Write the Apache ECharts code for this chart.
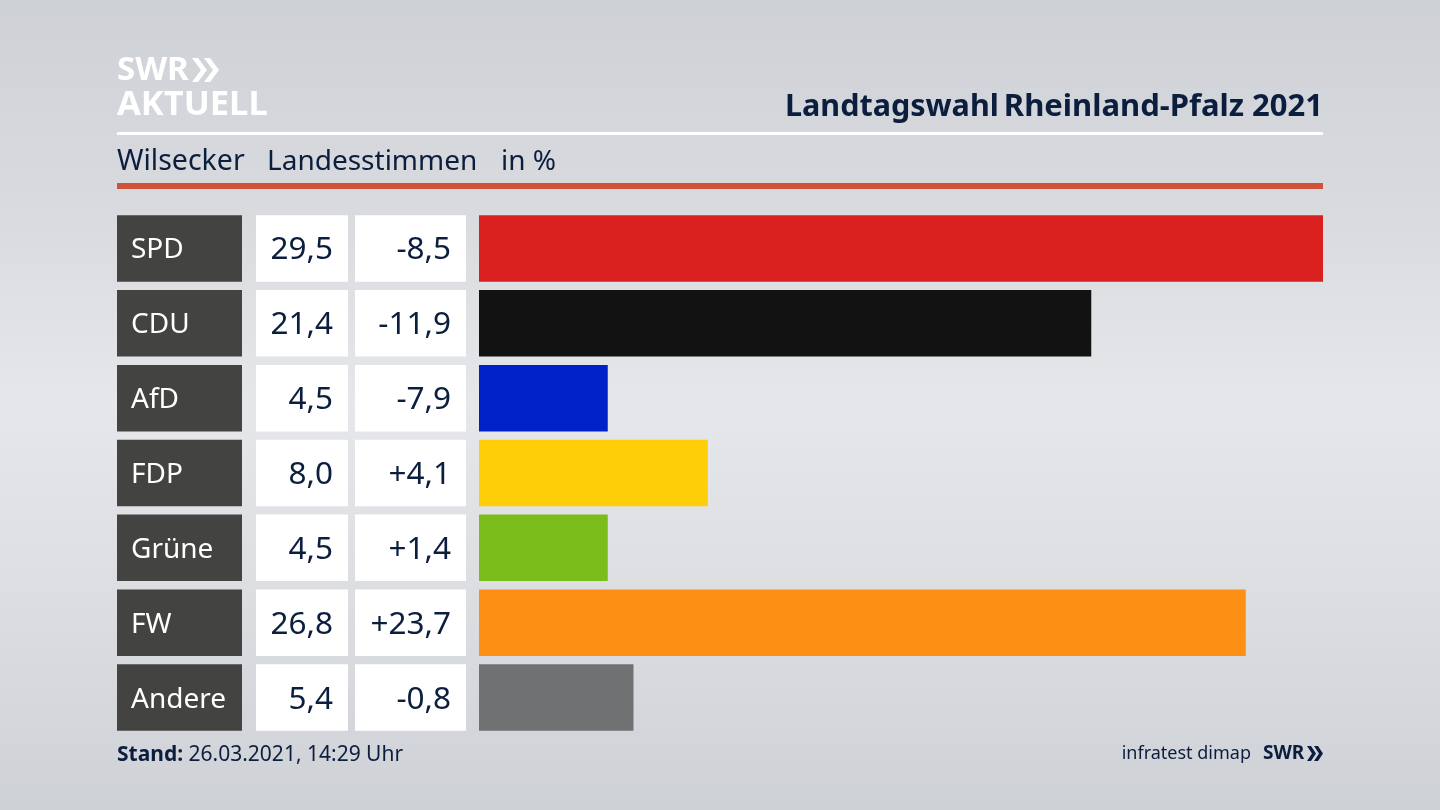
<!DOCTYPE html>
<html><head><meta charset="utf-8">
<style>html,body{margin:0;padding:0;background:#d8dbe0}#c{width:1440px;height:810px}</style>
<script src="https://cdn.jsdelivr.net/npm/echarts@6/dist/echarts.min.js"></script>
</head><body><div id="c"></div>
<script>
const parties = ['SPD','CDU','AfD','FDP','Grüne','FW','Andere'];
const shares = [29.5,21.4,4.5,8.0,4.5,26.8,5.4];
const changes = ['-8,5','-11,9','-7,9','+4,1','+1,4','+23,7','-0,8'];
const colors = ['#d9201f','#121212','#0020c8','#fece08','#7abc1a','#fe8f15','#707172'];
const FONT = '"Noto Sans"', INK = '#0c1e3e';
const fmt = v => v.toFixed(1).replace('.', ',');
const gridTop = 211, gridH = 524, barW = 66.5;
const cols = [
  {left:117,width:125},
  {left:256,width:92},
  {left:355,width:111},
  {left:479,width:844}
];
const one = parties.map(() => 1);
const cell = (i, color, labelOpt) => ({
  type:'bar', xAxisIndex:i, yAxisIndex:i, data:one, barWidth:barW, silent:true,
  itemStyle:{color}, label:Object.assign({show:true,fontFamily:FONT,verticalAlign:'middle',offset:[0,2]},labelOpt)
});
const chev = (x,y,h,w,t,fill) => ({type:'polygon',silent:true,shape:{points:[[x,y],[x+t,y],[x+t+w,y+h/2],[x+t,y+h],[x,y+h],[x+w,y+h/2]]},style:{fill}});
const txt = (x,y,text,size,fill,extra) => ({type:'text',silent:true,x,y,style:Object.assign({text,fontSize:size,fontFamily:FONT,fill,verticalAlign:'middle',align:'left'},extra||{})});
const chart = echarts.init(document.getElementById('c'),null,{renderer:'canvas'});
chart.setOption({
  animation:false,
  backgroundColor:{type:'linear',x:0,y:0,x2:0,y2:1,colorStops:[
    {offset:0,color:'#ced1d6'},{offset:.25,color:'#d8dade'},{offset:.5,color:'#e5e7ea'},{offset:.75,color:'#dbdde1'},{offset:1,color:'#ced1d6'}]},
  title:{text:'{b|Landtagswahl} {r|Rheinland-Pfalz 2021}',right:117,top:92,padding:0,
    textStyle:{rich:{b:{fontFamily:FONT,fontWeight:'bold',fontSize:30.5,color:INK},r:{fontFamily:FONT,fontSize:31,color:INK}}}},
  grid:cols.map(c=>({left:c.left,width:c.width,top:gridTop,height:gridH,containLabel:false})),
  xAxis:cols.map((c,i)=>({gridIndex:i,type:'value',min:0,max:i===3?29.5:1,show:false})),
  yAxis:cols.map((c,i)=>({gridIndex:i,type:'category',inverse:true,data:parties,show:false})),
  series:[
    cell(0,'#434341',{position:'insideLeft',distance:14,fontSize:28,color:'#fff',formatter:p=>parties[p.dataIndex]}),
    cell(1,'#fff',{position:'insideRight',distance:15,fontSize:31.5,color:INK,formatter:p=>fmt(shares[p.dataIndex])}),
    cell(2,'#fff',{position:'insideRight',distance:15,fontSize:31.5,color:INK,formatter:p=>changes[p.dataIndex]}),
    {type:'bar',xAxisIndex:3,yAxisIndex:3,barWidth:barW,silent:true,
      data:shares.map((v,i)=>({value:v,itemStyle:{color:colors[i]}}))}
  ],
  graphic:[
    {type:'rect',silent:true,shape:{x:117,y:132,width:1206,height:3},style:{fill:'#fff'}},
    {type:'rect',silent:true,shape:{x:117,y:183,width:1206,height:6},style:{fill:'#cf5339'}},
    txt(117,162,'Wilsecker',28.5,INK),
    txt(267,162,'Landesstimmen',28,INK),
    txt(501,162,'in %',28,INK),
    txt(117,71,'SWR',33,'#fff',{fontWeight:'bold'}),
    chev(192,58,24,9,6,'#fff'),chev(204,58,24,9,6,'#fff'),
    txt(117,105,'AKTUELL',34.5,'#fff',{fontWeight:'bold'}),
    txt(117,755,'{b|Stand:} {r|26.03.2021, 14:29 Uhr}',21,INK,{rich:{b:{fontFamily:FONT,fontWeight:'bold',fontSize:21,fill:INK},r:{fontFamily:FONT,fontSize:21,fill:INK}}}),
    txt(1251,754,'infratest dimap',18,INK,{align:'right'}),
    txt(1263,754,'SWR',19,INK,{fontWeight:'bold'}),
    chev(1307,746,15,5,4,INK),chev(1314,746,15,5,4,INK)
  ]
});
</script></body></html>
